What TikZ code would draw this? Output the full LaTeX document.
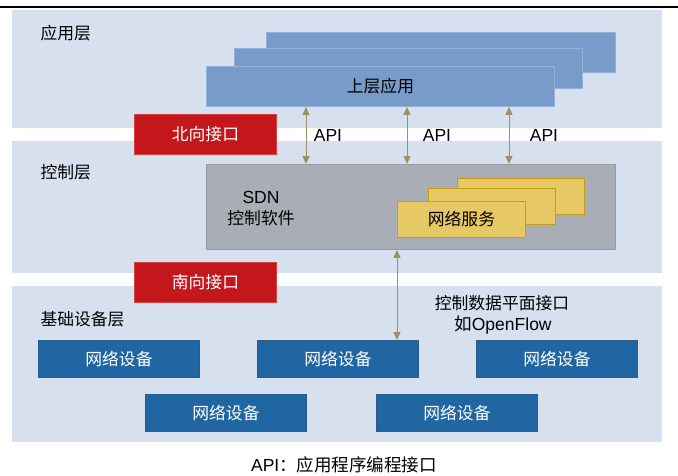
\documentclass[tikz,border=0pt]{standalone}
\usepackage{fontspec}
\setmainfont{Liberation Sans}
\newfontfamily\cjk{Noto Sans CJK SC}
\usetikzlibrary{arrows.meta}
\definecolor{layerbg}{HTML}{D7E0EE}
\definecolor{appfill}{HTML}{789BCA}
\definecolor{appline}{HTML}{93B0DB}
\definecolor{redfill}{HTML}{C3171B}
\definecolor{redline}{HTML}{D94040}
\definecolor{sdnfill}{HTML}{A9ADB5}
\definecolor{sdnline}{HTML}{979BA3}
\definecolor{svcfill}{HTML}{E6C865}
\definecolor{svcline}{HTML}{C89E10}
\definecolor{devfill}{HTML}{1F66A2}
\definecolor{devline}{HTML}{2B5C8C}
\definecolor{arrcol}{HTML}{9C9263}
\tikzset{
  box/.style={rectangle, inner sep=0pt, anchor=north west, line width=0.9pt},
  layer/.style={box, fill=layerbg, draw=none},
  appbox/.style={box, fill=appfill, draw=appline, minimum width=348, minimum height=40},
  redbox/.style={box, fill=redfill, draw=redline, minimum width=142, minimum height=40, text=white},
  svcbox/.style={box, fill=svcfill, draw=svcline, minimum width=127, minimum height=36},
  devbox/.style={box, fill=devfill, draw=devline, minimum width=161, minimum height=37, text=white},
  cn/.style={font=\cjk\fontsize{16.8}{19}\selectfont},
  lat/.style={font=\fontsize{17.5}{19}\selectfont},
  arr/.style={draw=arrcol, line width=1pt, {Triangle[length=8pt,width=7pt]}-{Triangle[length=8pt,width=7pt]}}
}
\begin{document}
\begin{tikzpicture}[x=1pt,y=-1pt]
\useasboundingbox (0,0) rectangle (678,475);
\fill[white] (0,0) rectangle (678,475);
\coordinate (tl) at (0,7);
\coordinate (tr) at (678,7);
\draw[line width=2.5pt] (tl) -- (tr);
% layers
\node[layer, minimum width=650, minimum height=118] (L1) at (12,10) {};
\node[layer, minimum width=650, minimum height=132] (L2) at (12,141) {};
\node[layer, minimum width=650, minimum height=156] (L3) at (12,286) {};
\node[cn, anchor=west] (t1) at (37,33) {应用层};
\node[cn, anchor=west] (t2) at (37,172) {控制层};
\node[cn, anchor=west] (t3) at (37,319) {基础设备层};
% apps
\node[appbox, minimum width=349] (app3) at (266,32) {};
\node[appbox] (app2) at (234,48) {};
\node[appbox, cn] (app1) at (206,66) {上层应用};
% interfaces
\node[redbox, cn] (north) at (134,114) {北向接口};
\node[redbox, cn] (south) at (134,262) {南向接口};
% SDN
\node[box, fill=sdnfill, draw=sdnline, minimum width=409, minimum height=85] (sdn) at (206,164) {};
\node[lat] (sdnt) at (261,197) {SDN};
\node[cn] (sdnc) at (261,218) {控制软件};
\node[svcbox] (svc3) at (457,178) {};
\node[svcbox] (svc2) at (428,188) {};
\node[svcbox, minimum width=128, cn] (svc1) at (397,201) {网络服务};
% API arrows
\coordinate (x1) at (306,0);
\coordinate (x2) at (407,0);
\coordinate (x3) at (509,0);
\coordinate (x4) at (397,0);
\draw[arr] (sdn.north -| x1) -- (app1.south -| x1);
\draw[arr] (sdn.north -| x2) -- (app1.south -| x2);
\draw[arr] (sdn.north -| x3) -- (app1.south -| x3);
\node[lat] (api1) at (328,135) {API};
\node[lat] (api2) at (437,135) {API};
\node[lat] (api3) at (544,135) {API};
% devices
\node[devbox, cn] (d1) at (38,340) {网络设备};
\node[devbox, cn] (d2) at (257,340) {网络设备};
\node[devbox, cn] (d3) at (476,340) {网络设备};
\node[devbox, cn] (d4) at (145,394) {网络设备};
\node[devbox, cn] (d5) at (376,394) {网络设备};
\draw[arr] (d2.north -| x4) -- (sdn.south -| x4);
\node[cn] (cd) at (502,303) {控制数据平面接口};
\node[lat] (of) at (503,325) {{\cjk 如}OpenFlow};
% caption
\node[lat] (cap) at (344,465) {API{\cjk ：应用程序编程接口}};
\end{tikzpicture}
\end{document}
